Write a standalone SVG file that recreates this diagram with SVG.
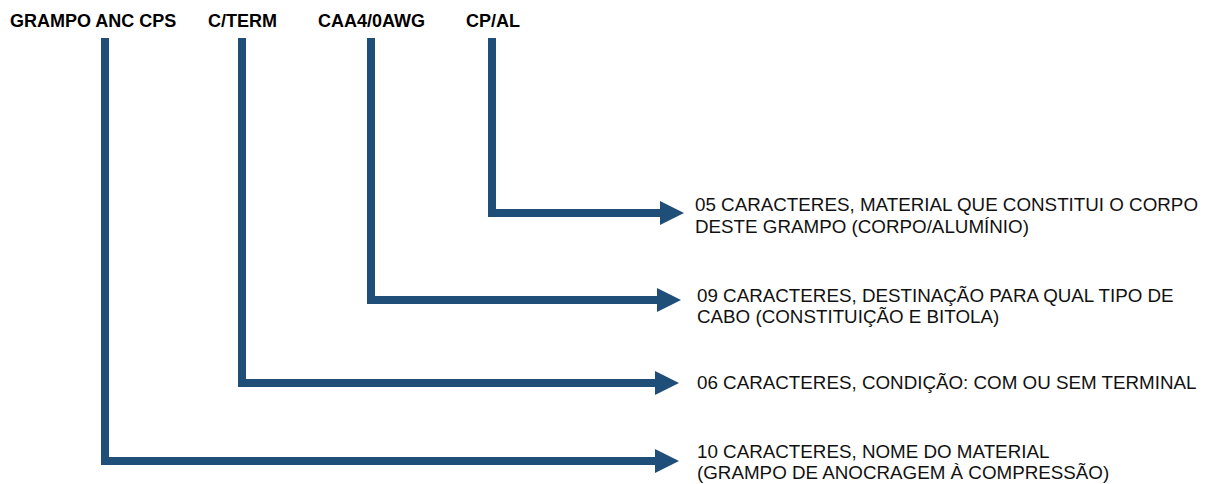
<svg xmlns="http://www.w3.org/2000/svg" width="1205" height="484" viewBox="0 0 1205 484">
  <style>
    .code { font-family: "Liberation Sans", Arial, sans-serif; font-weight: bold; font-size: 18px; fill: #000; }
    .desc { font-family: "Liberation Sans", Arial, sans-serif; font-size: 18.8px; fill: #111; }
    .conn { fill: none; stroke: #1F4E79; stroke-width: 8; stroke-linejoin: miter; stroke-linecap: butt; }
  </style>
  <defs>
    <marker id="arrow" viewBox="0 0 24 24" markerWidth="24" markerHeight="24" markerUnits="userSpaceOnUse" refX="1" refY="12" orient="auto">
      <path d="M0 0 L24 12 L0 24 Z" fill="#1F4E79"/>
    </marker>
  </defs>
  <rect width="1205" height="484" fill="#fff"/>

  <g id="codes">
    <g id="code-grampo"><text class="code" x="10" y="27">GRAMPO ANC CPS</text></g>
    <g id="code-cterm"><text class="code" x="208" y="27">C/TERM</text></g>
    <g id="code-caa"><text class="code" x="318" y="27">CAA4/0AWG</text></g>
    <g id="code-cpal"><text class="code" x="466" y="27">CP/AL</text></g>
  </g>

  <g id="connectors">
    <path class="conn" d="M492 38 V213 H661" marker-end="url(#arrow)"/>
    <path class="conn" d="M371 38 V300 H658" marker-end="url(#arrow)"/>
    <path class="conn" d="M242 38 V383 H656" marker-end="url(#arrow)"/>
    <path class="conn" d="M105 38 V461 H656" marker-end="url(#arrow)"/>
  </g>

  <g id="desc-cpal">
    <text class="desc" x="695" y="211">05 CARACTERES, MATERIAL QUE CONSTITUI O CORPO</text>
    <text class="desc" x="695" y="233">DESTE GRAMPO (CORPO/ALUMÍNIO)</text>
  </g>
  <g id="desc-caa">
    <text class="desc" x="697" y="302">09 CARACTERES, DESTINAÇÃO PARA QUAL TIPO DE</text>
    <text class="desc" x="697" y="323">CABO (CONSTITUIÇÃO E BITOLA)</text>
  </g>
  <g id="desc-cterm">
    <text class="desc" x="697" y="389">06 CARACTERES, CONDIÇÃO: COM OU SEM TERMINAL</text>
  </g>
  <g id="desc-grampo">
    <text class="desc" x="697" y="458">10 CARACTERES, NOME DO MATERIAL</text>
    <text class="desc" x="697" y="479">(GRAMPO DE ANOCRAGEM À COMPRESSÃO)</text>
  </g>
</svg>
